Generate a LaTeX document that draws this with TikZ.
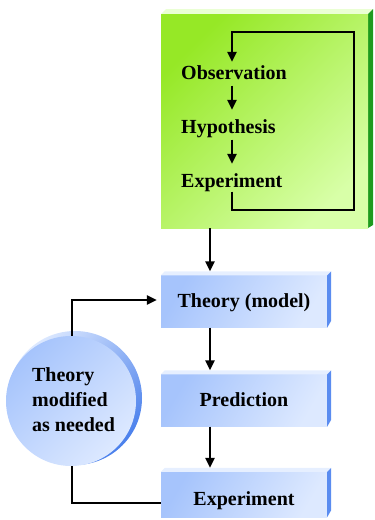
\documentclass[tikz,border=0pt]{standalone}
\usepackage{fontspec}
\setmainfont{Liberation Serif}
\usetikzlibrary{arrows.meta,calc}
\definecolor{gA}{HTML}{96E826}
\definecolor{gB}{HTML}{D8FFA8}
\definecolor{gTop}{HTML}{EAFFD4}
\definecolor{gSide}{HTML}{1E9B1E}
\definecolor{bA}{HTML}{A6C4FC}
\definecolor{bB}{HTML}{DDE9FF}
\definecolor{bTop}{HTML}{E6EFFF}
\definecolor{bSide}{HTML}{5A8CF0}
\definecolor{cDark}{HTML}{4A80EC}
\begin{document}
\begin{tikzpicture}[x=1pt,y=-1pt,
  font=\fontsize{20}{25}\selectfont\bfseries,
  arr/.style={line width=2.3pt,-{Triangle[length=10pt,width=9pt]}},
  ln/.style={line width=2.3pt},
  bluebox/.style={minimum width=166pt,minimum height=52pt,inner sep=0pt,
    text height=14pt,text depth=3pt,top color=bA,bottom color=bB,shading angle=60},
  lbl/.style={inner sep=0pt,text height=14pt,text depth=4.5pt,anchor=base west}]
\useasboundingbox (0,0) rectangle (375,520);
% green box
\fill[gTop] (161,14) -- (166,9) -- (373,9) -- (368,14) -- cycle;
\fill[gSide] (368,14) -- (373,9) -- (373,225) -- (368,228) -- cycle;
\node[minimum width=207pt,minimum height=214pt,inner sep=0pt,
  top color=gA,bottom color=gB,shading angle=45] (green) at (264.5,121) {};
\node[lbl] (obs) at (181,79) {Observation};
\node[lbl] (hyp) at (181,133) {Hypothesis};
\node[lbl] (exp1) at (181,187) {Experiment};
\coordinate (lx) at (232,0);
\coordinate (c1) at (354,210);
\coordinate (c2) at (354,32);
\draw[arr] (lx |- exp1.south) |- (c1) -- (c2) -| ($(lx |- obs.north)+(0,-3)$);
\draw[arr,shorten <=2pt,shorten >=9pt] (lx |- obs.south) -- (lx |- hyp.north);
\draw[arr,shorten <=2pt,shorten >=9pt] (lx |- hyp.south) -- (lx |- exp1.north);
% blue boxes
\node[bluebox] (theory) at (244,301.5) {Theory (model)};
\node[bluebox] (pred) at (244,400.5) {Prediction};
\node[bluebox,minimum height=45pt] (expb) at (244,494.5) {};
\node[inner sep=0pt,anchor=base] (exptxt) at (244,505) {Experiment};
\foreach \b in {theory,pred,expb}{
  \fill[bTop] (\b.north west) -- ++(4,-4) -- ([shift={(4,-4)}]\b.north east) -- (\b.north east) -- cycle;
  \fill[bSide] (\b.north east) -- ++(4,-4) -- ([shift={(4,-7)}]\b.south east) -- (\b.south east) -- cycle;
}
\coordinate (ax) at (210,0);
\draw[arr,shorten >=4pt] (ax |- green.south) -- (ax |- theory.north);
\draw[arr,shorten >=4pt] (ax |- theory.south) -- (ax |- pred.north);
\draw[arr,shorten >=4pt] (ax |- pred.south) -- (ax |- expb.north);
% circle
\shade[top color=bB,bottom color=cDark,shading angle=45] (75,398) circle (67);
\node[circle,minimum size=130pt,inner sep=0pt,top color=bA,bottom color=bB,shading angle=45] (circ) at (71,401) {};
\node[align=left,inner sep=0pt] (ctxt) at (73.5,400) {Theory\\modified\\as needed};
\draw[arr,shorten >=4pt] ([xshift=1pt]circ.north) |- ([yshift=1.5pt]theory.west);
\draw[ln] ([xshift=1pt]circ.south) |- ([yshift=-8.5pt]expb.west);
\end{tikzpicture}
\end{document}
